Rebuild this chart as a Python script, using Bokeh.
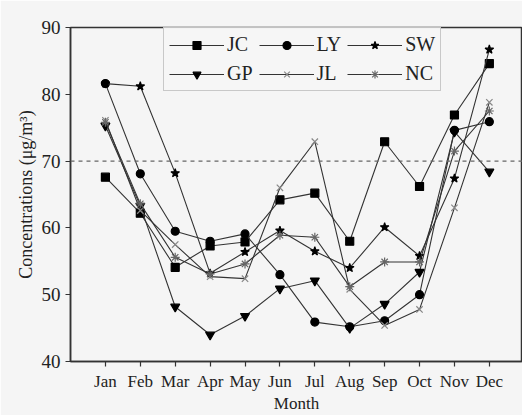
from bokeh.plotting import figure
from bokeh.models import Span, Legend, LegendItem, FixedTicker, Range1d
from bokeh.embed import file_html
from bokeh.resources import INLINE

months = ["Jan", "Feb", "Mar", "Apr", "May", "Jun", "Jul", "Aug", "Sep", "Oct", "Nov", "Dec"]
JC = [67.6, 62.2, 54.1, 57.3, 57.9, 64.2, 65.2, 58.0, 72.9, 66.2, 76.9, 84.6]
LY = [81.6, 68.1, 59.5, 58.0, 59.1, 53.0, 45.9, 45.2, 46.1, 50.0, 74.6, 75.9]
SW = [81.6, 81.2, 68.2, 53.2, 56.4, 59.6, 56.5, 54.0, 60.1, 55.8, 67.4, 86.7]
GP = [75.3, 63.3, 48.2, 44.0, 46.8, 50.9, 52.1, 45.0, 48.6, 53.4, 74.4, 68.4]
JL = [76.1, 62.6, 57.5, 52.7, 52.4, 66.0, 72.9, 50.8, 45.4, 47.8, 63.0, 78.8]
NC = [75.8, 63.6, 55.6, 53.1, 54.6, 58.9, 58.6, 51.2, 54.9, 54.9, 71.5, 77.5]
guideline = 70

FONT = "Liberation Serif"
x = list(range(1, len(months) + 1))

p = figure(width=522, height=415, output_backend="svg", toolbar_location=None,
           x_range=Range1d(0, 12.95), y_range=Range1d(40, 90),
           min_border_left=70, min_border_top=27, min_border_bottom=52, min_border_right=0)
p.background_fill_color = "#f5f5f5"
p.border_fill_color = "#f5f5f5"
p.outline_line_color = "#333333"
p.outline_line_width = 1.5
p.grid.visible = False

p.add_layout(Span(location=guideline, dimension="width", line_color="#666666",
                  line_dash="4 4", line_width=1.2))

series = [
    ("JC", JC, "square", "black", 8),
    ("LY", LY, "circle", "black", 8),
    ("SW", SW, "star", "black", 9),
    ("GP", GP, "inverted_triangle", "black", 9),
    ("JL", JL, "x", "#888888", 9),
    ("NC", NC, "asterisk", "#666666", 9),
]
items = {}
for name, ys, marker, col, sz in series:
    r1 = p.line(x, ys, line_color="#333333", line_width=1.1)
    r2 = p.scatter(x, ys, marker=marker, size=sz, fill_color=col, line_color=col, line_width=1.2)
    items[name] = [r1, r2]

order = ["JC", "GP", "LY", "JL", "SW", "NC"]
legend = Legend(items=[LegendItem(label=n, renderers=items[n]) for n in order],
                location=(93, 270), ncols=3,
                label_text_font=FONT, label_text_font_size="20px", label_text_color="#222222",
                glyph_width=55, label_standoff=3, spacing=6, padding=5, margin=0,
                border_line_color="#999999", background_fill_color="#f5f5f5",
                label_height=20, glyph_height=20)
p.add_layout(legend)

p.xaxis.ticker = FixedTicker(ticks=x)
p.xaxis.major_label_overrides = {i: m for i, m in zip(x, months)}
p.yaxis.ticker = FixedTicker(ticks=[40, 50, 60, 70, 80, 90])
for ax in (p.xaxis[0], p.yaxis[0]):
    ax.axis_line_color = "#333333"
    ax.axis_line_width = 1.5
    ax.major_tick_line_color = "#333333"
    ax.major_tick_line_width = 1.2
    ax.major_tick_out = 5
    ax.major_tick_in = 0
    ax.minor_tick_line_color = None
    ax.major_label_text_font = FONT
    ax.major_label_text_color = "#222222"
    ax.axis_label_text_font = FONT
    ax.axis_label_text_font_style = "normal"
    ax.axis_label_text_color = "#222222"
p.xaxis.major_label_text_font_size = "17px"
p.yaxis.major_label_text_font_size = "19px"
p.xaxis.axis_label = "Month"
p.xaxis.axis_label_text_font_size = "17px"
p.xaxis.axis_label_standoff = 0
p.yaxis.axis_label = "Concentrations (μg/m³)"
p.yaxis.axis_label_text_font_size = "18px"
p.yaxis.axis_label_standoff = 3

open("out.html", "w").write(file_html(p, INLINE))
